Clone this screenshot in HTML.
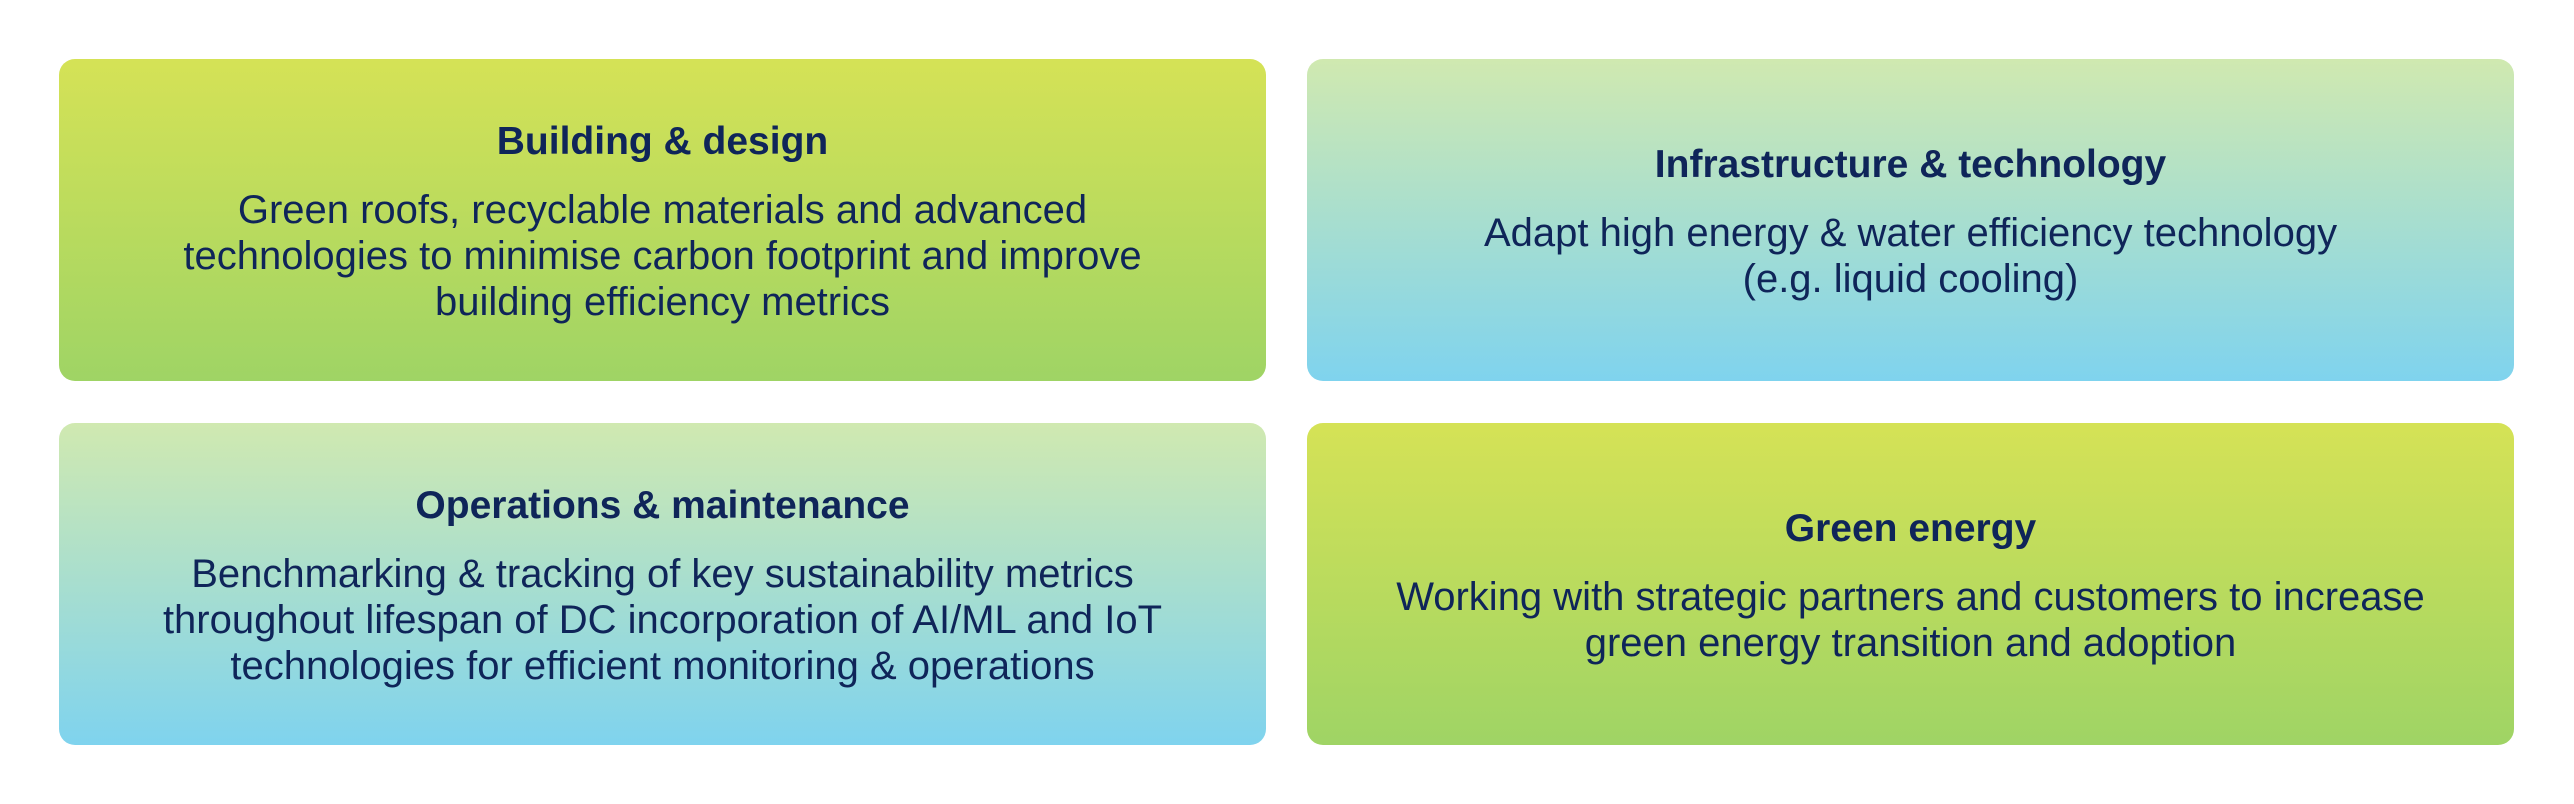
<!DOCTYPE html>
<html><head><meta charset="utf-8"><style>
html,body{margin:0;padding:0;background:#fff;}
body{width:2574px;height:804px;position:relative;overflow:hidden;font-family:"Liberation Sans",sans-serif;color:#0f2559;}
.b{position:absolute;border-radius:16px;display:flex;flex-direction:column;align-items:center;justify-content:center;text-align:center;}
.g{background:linear-gradient(#d5e256,#9fd465);}
.c{background:linear-gradient(#d0e9b0,#7fd3ee);}
.t{font-weight:bold;font-size:39px;line-height:46px;margin-bottom:22px;padding-top:4px;}
.p{font-size:40px;line-height:46px;white-space:nowrap;}
</style></head><body>
<div class="b g" style="left:59px;top:59px;width:1207px;height:322px;">
<div class="t">Building &amp; design</div>
<div class="p">Green roofs, recyclable materials and advanced<br>technologies to minimise carbon footprint and improve<br>building efficiency metrics</div></div>
<div class="b c" style="left:1307px;top:59px;width:1207px;height:322px;">
<div class="t">Infrastructure &amp; technology</div>
<div class="p">Adapt high energy &amp; water efficiency technology<br>(e.g. liquid cooling)</div></div>
<div class="b c" style="left:59px;top:423px;width:1207px;height:322px;">
<div class="t">Operations &amp; maintenance</div>
<div class="p">Benchmarking &amp; tracking of key sustainability metrics<br>throughout lifespan of DC incorporation of AI/ML and IoT<br>technologies for efficient monitoring &amp; operations</div></div>
<div class="b g" style="left:1307px;top:423px;width:1207px;height:322px;">
<div class="t">Green energy</div>
<div class="p">Working with strategic partners and customers to increase<br>green energy transition and adoption</div></div>
</body></html>
